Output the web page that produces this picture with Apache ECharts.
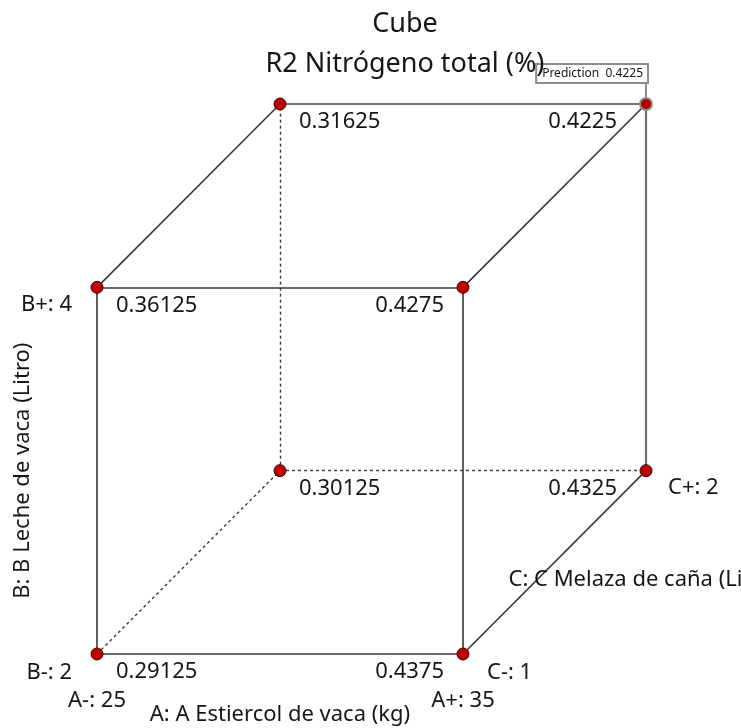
<!DOCTYPE html>
<html>
<head>
<meta charset="utf-8">
<script src="https://cdn.jsdelivr.net/npm/echarts@6/dist/echarts.min.js"></script>
<style>
  html, body { margin: 0; padding: 0; background: #fff; }
  #chart { width: 741px; height: 728px; }
</style>
</head>
<body>
<div id="chart"></div>
<script>
// Factor levels (low, high)
const levelsA = [25, 35];
const levelsB = [2, 4];
const levelsC = [1, 2];
// Predicted response at each corner, standard order (A fastest, then B, then C)
const responses = [0.29125, 0.4375, 0.36125, 0.4275, 0.30125, 0.4325, 0.31625, 0.4225];
const factorTitles = ['A: A Estiercol de vaca (kg)', 'B: B Leche de vaca (Litro)', 'C: C Melaza de caña (Litro)'];
const chartTitles = ['Cube', 'R2 Nitrógeno total (%)'];
const predictionCorner = 7;

const FONT = 'Noto Sans';
const TEXT = '#161616';
const DEPTH = 0.5; // oblique projection of the C axis

// corner i -> coded (a, b, c) in {0,1}
function coded(i) { return [i & 1, (i >> 1) & 1, (i >> 2) & 1]; }
function project(i) {
  const [a, b, c] = coded(i);
  return [a + DEPTH * c, b + DEPTH * c];
}
const hiddenCorner = 4; // A-, B-, C+ sits behind the front faces

// cube edges: corners that differ in one factor
const edgeData = [];
for (let i = 0; i < 8; i++) {
  for (let bit = 0; bit < 3; bit++) {
    const j = i | (1 << bit);
    if (j === i) continue;
    const hidden = i === hiddenCorner || j === hiddenCorner;
    const back = coded(i)[2] === 1 && coded(j)[2] === 1;
    edgeData.push({
      coords: [project(i), project(j)],
      lineStyle: hidden
        ? { color: '#3a3a3a', width: 1.4, type: [3, 3], opacity: 1 }
        : back
          ? { color: '#727272', width: 2.2, opacity: 1 }
          : { color: '#383838', width: 1.6, opacity: 1 }
    });
  }
}

// corner points with value labels
const cornerData = responses.map((v, i) => {
  const [a, b, c] = coded(i);
  const label = a === 0
    ? { align: 'left', offset: [19, 18] }
    : { align: 'right', offset: [c === 1 ? -29 : -19, 18] };
  const item = { value: [...project(i), v], label };
  if (i === predictionCorner) {
    item.itemStyle = { color: '#b00000', borderColor: '#8c8c8c', borderWidth: 2, opacity: 1 };
  }
  return item;
});

function mid(i, j) {
  const p = project(i), q = project(j);
  return [(p[0] + q[0]) / 2, (p[1] + q[1]) / 2];
}
function levelText(letter, sign, level) { return letter + sign + ': ' + level; }

const annotations = [
  { value: project(2), name: levelText('B', '+', levelsB[1]), label: { align: 'right', offset: [-25, 17] } },
  { value: project(0), name: levelText('B', '-', levelsB[0]), label: { align: 'right', offset: [-25, 19] } },
  { value: project(0), name: levelText('A', '-', levelsA[0]), label: { align: 'center', offset: [0, 47] } },
  { value: project(1), name: levelText('A', '+', levelsA[1]), label: { align: 'center', offset: [0, 47] } },
  { value: project(1), name: levelText('C', '-', levelsC[0]), label: { align: 'left', offset: [24, 19] } },
  { value: project(5), name: levelText('C', '+', levelsC[1]), label: { align: 'left', offset: [22, 17] } },
  { value: mid(0, 1), name: factorTitles[0], label: { align: 'center', offset: [0, 61] } },
  // rotated label: offset is measured in the rotated frame
  { value: mid(0, 2), name: factorTitles[1], label: { align: 'center', rotate: 90, offset: [0, -74] } },
  { value: mid(1, 5), name: factorTitles[2], label: { align: 'left', offset: [-46, 17] } }
];

const chart = echarts.init(document.getElementById('chart'), null, { renderer: 'canvas' });
chart.setOption({
  backgroundColor: '#ffffff',
  animation: false,
  title: [
    { text: chartTitles[0], left: 400, top: 6, textAlign: 'center',
      textStyle: { fontFamily: FONT, fontSize: 27, fontWeight: 'normal', color: TEXT } },
    { text: chartTitles[1], left: 400, top: 46, textAlign: 'center',
      textStyle: { fontFamily: FONT, fontSize: 27, fontWeight: 'normal', color: TEXT } }
  ],
  grid: { left: 97, right: 95, top: 104, bottom: 74 },
  xAxis: { type: 'value', min: 0, max: 1 + DEPTH, show: false },
  yAxis: { type: 'value', min: 0, max: 1 + DEPTH, show: false },
  series: [
    {
      type: 'lines',
      coordinateSystem: 'cartesian2d',
      silent: true,
      clip: false,
      z: 1,
      data: edgeData
    },
    {
      // flag marking the selected prediction
      type: 'scatter',
      silent: true,
      clip: false,
      z: 2,
      symbol: 'rect',
      symbolSize: [2, 22],
      symbolOffset: [0, -11],
      itemStyle: { color: '#8c8c8c', opacity: 1 },
      data: [{ value: [...project(predictionCorner), responses[predictionCorner]] }],
      label: {
        show: true,
        position: 'top',
        distance: 0,
        align: 'right',
        offset: [1, 0],
        formatter: p => 'Prediction  ' + p.value[2],
        fontFamily: FONT,
        fontSize: 12,
        color: TEXT,
        backgroundColor: '#ffffff',
        borderColor: '#8c8c8c',
        borderWidth: 2,
        padding: [3, 4, 2, 5]
      }
    },
    {
      type: 'scatter',
      silent: true,
      clip: false,
      z: 3,
      symbol: 'circle',
      symbolSize: 12,
      itemStyle: { color: '#c00000', borderColor: '#3a0000', borderWidth: 1, opacity: 1 },
      data: cornerData,
      label: {
        show: true,
        position: 'inside',
        verticalAlign: 'middle',
        formatter: p => String(p.value[2]),
        fontFamily: FONT,
        fontSize: 22,
        color: TEXT
      }
    },
    {
      type: 'scatter',
      silent: true,
      clip: false,
      z: 4,
      symbolSize: 1,
      itemStyle: { color: 'rgba(0,0,0,0)', opacity: 1 },
      data: annotations,
      label: {
        show: true,
        position: 'inside',
        verticalAlign: 'middle',
        formatter: p => p.name,
        fontFamily: FONT,
        fontSize: 22,
        color: TEXT
      }
    }
  ]
});
</script>
</body>
</html>
